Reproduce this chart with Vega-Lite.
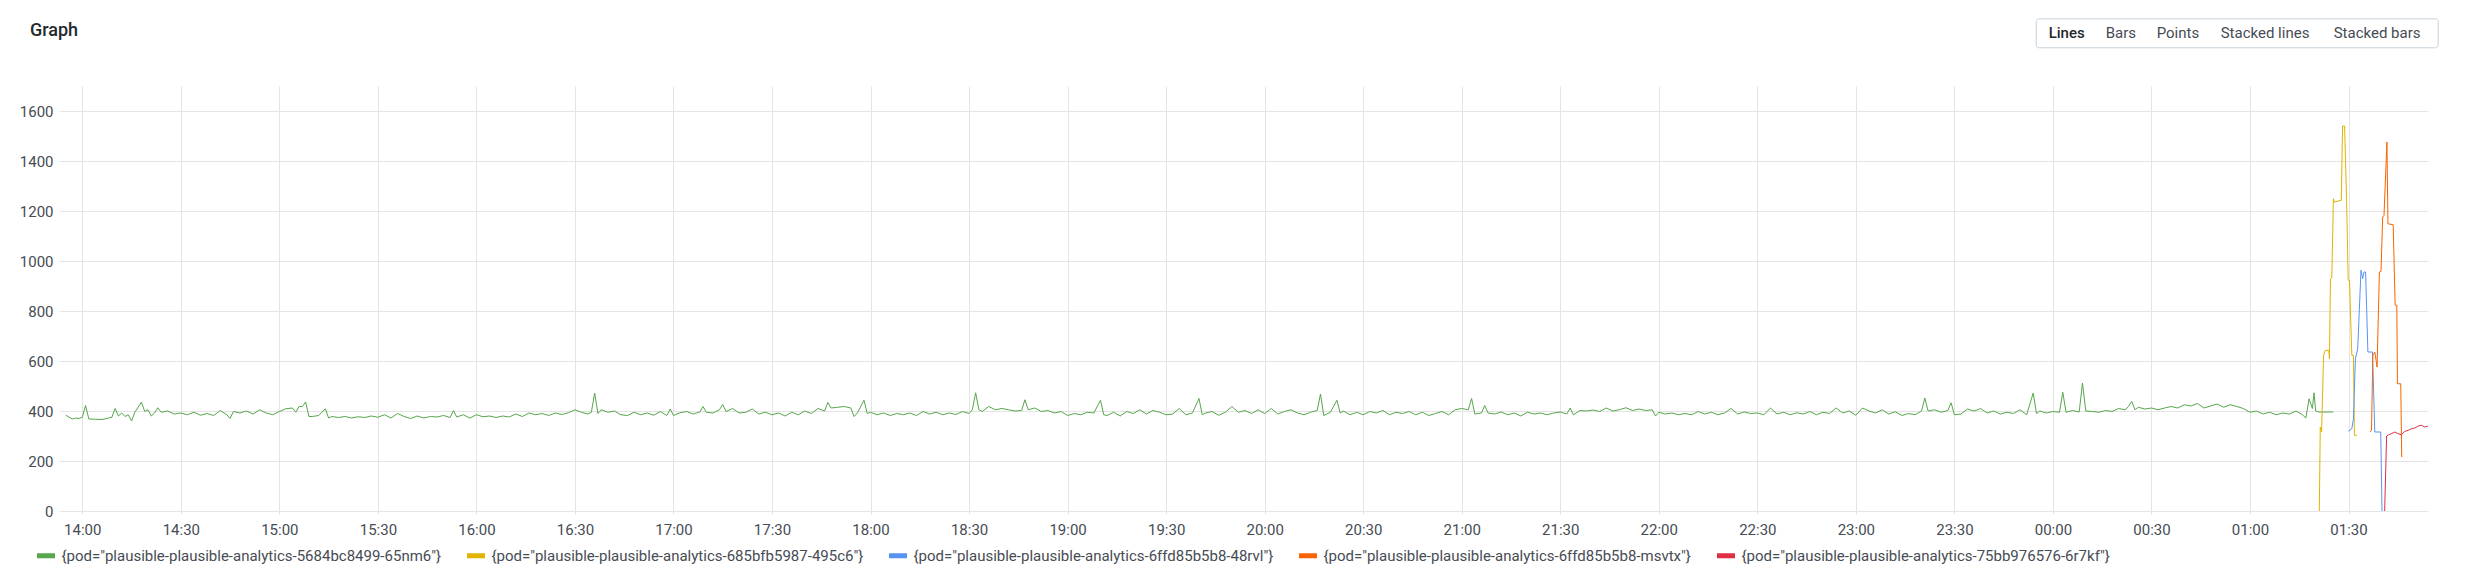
{
  "$schema": "https://vega.github.io/schema/vega-lite/v6.json",
  "width": 2369,
  "height": 425,
  "autosize": "none",
  "padding": {"left": 59, "top": 86, "right": 49, "bottom": 67},
  "background": "#ffffff",
  "config": {"font": "Roboto", "view": {"stroke": null}},
  "title": {"text": "Graph", "anchor": "start", "frame": "group", "dx": -29, "offset": -40, "baseline": "bottom", "fontSize": 18, "fontWeight": 500, "font": "Roboto", "color": "#24292e"},
  "datasets": {
    "pods": [
      {"p":"g","m":-5,"v":383},{"p":"g","m":-4,"v":375},{"p":"g","m":-3,"v":368},{"p":"g","m":-2,"v":372},{"p":"g","m":-1,"v":370},{"p":"g","m":0,"v":375},{"p":"g","m":1,"v":422},{"p":"g","m":2,"v":368},{"p":"g","m":4,"v":367},{"p":"g","m":6,"v":366},{"p":"g","m":8,"v":372},{"p":"g","m":9,"v":375},{"p":"g","m":10,"v":410},{"p":"g","m":11,"v":380},{"p":"g","m":12,"v":392},{"p":"g","m":13,"v":378},{"p":"g","m":14,"v":385},{"p":"g","m":15,"v":360},{"p":"g","m":16,"v":395},{"p":"g","m":17,"v":415},{"p":"g","m":18,"v":436},{"p":"g","m":19,"v":398},{"p":"g","m":20,"v":405},{"p":"g","m":21,"v":380},{"p":"g","m":22,"v":392},{"p":"g","m":23,"v":413},{"p":"g","m":24,"v":395},{"p":"g","m":26,"v":400},{"p":"g","m":28,"v":388},{"p":"g","m":30,"v":392},{"p":"g","m":32,"v":385},{"p":"g","m":34,"v":395},{"p":"g","m":36,"v":383},{"p":"g","m":38,"v":390},{"p":"g","m":40,"v":382},{"p":"g","m":42,"v":402},{"p":"g","m":44,"v":385},{"p":"g","m":45,"v":370},{"p":"g","m":46,"v":398},{"p":"g","m":48,"v":392},{"p":"g","m":50,"v":400},{"p":"g","m":52,"v":388},{"p":"g","m":54,"v":405},{"p":"g","m":56,"v":392},{"p":"g","m":58,"v":385},{"p":"g","m":60,"v":398},{"p":"g","m":62,"v":409},{"p":"g","m":64,"v":412},{"p":"g","m":65,"v":395},{"p":"g","m":66,"v":418},{"p":"g","m":67,"v":418},{"p":"g","m":68,"v":436},{"p":"g","m":69,"v":378},{"p":"g","m":70,"v":378},{"p":"g","m":72,"v":382},{"p":"g","m":74,"v":409},{"p":"g","m":75,"v":372},{"p":"g","m":76,"v":378},{"p":"g","m":78,"v":374},{"p":"g","m":80,"v":378},{"p":"g","m":82,"v":372},{"p":"g","m":84,"v":377},{"p":"g","m":86,"v":374},{"p":"g","m":88,"v":380},{"p":"g","m":90,"v":375},{"p":"g","m":92,"v":385},{"p":"g","m":94,"v":372},{"p":"g","m":96,"v":390},{"p":"g","m":98,"v":378},{"p":"g","m":100,"v":370},{"p":"g","m":102,"v":380},{"p":"g","m":104,"v":372},{"p":"g","m":106,"v":378},{"p":"g","m":108,"v":376},{"p":"g","m":110,"v":382},{"p":"g","m":112,"v":374},{"p":"g","m":113,"v":402},{"p":"g","m":114,"v":376},{"p":"g","m":116,"v":385},{"p":"g","m":118,"v":372},{"p":"g","m":120,"v":385},{"p":"g","m":122,"v":377},{"p":"g","m":124,"v":380},{"p":"g","m":126,"v":374},{"p":"g","m":128,"v":380},{"p":"g","m":130,"v":376},{"p":"g","m":132,"v":388},{"p":"g","m":134,"v":378},{"p":"g","m":136,"v":392},
      {"p":"g","m":138,"v":385},{"p":"g","m":140,"v":390},{"p":"g","m":142,"v":382},{"p":"g","m":144,"v":392},{"p":"g","m":146,"v":386},{"p":"g","m":148,"v":393},{"p":"g","m":150,"v":405},{"p":"g","m":152,"v":395},{"p":"g","m":154,"v":388},{"p":"g","m":155,"v":395},{"p":"g","m":156,"v":472},{"p":"g","m":157,"v":390},{"p":"g","m":158,"v":405},{"p":"g","m":160,"v":395},{"p":"g","m":162,"v":400},{"p":"g","m":164,"v":385},{"p":"g","m":166,"v":382},{"p":"g","m":168,"v":395},{"p":"g","m":170,"v":385},{"p":"g","m":172,"v":392},{"p":"g","m":174,"v":383},{"p":"g","m":176,"v":398},{"p":"g","m":178,"v":382},{"p":"g","m":179,"v":408},{"p":"g","m":180,"v":382},{"p":"g","m":182,"v":393},{"p":"g","m":184,"v":398},{"p":"g","m":186,"v":388},{"p":"g","m":188,"v":396},{"p":"g","m":189,"v":418},{"p":"g","m":190,"v":395},{"p":"g","m":192,"v":392},{"p":"g","m":194,"v":405},{"p":"g","m":195,"v":426},{"p":"g","m":196,"v":398},{"p":"g","m":198,"v":410},{"p":"g","m":200,"v":392},{"p":"g","m":202,"v":395},{"p":"g","m":204,"v":408},{"p":"g","m":206,"v":388},{"p":"g","m":208,"v":395},{"p":"g","m":210,"v":385},{"p":"g","m":212,"v":392},{"p":"g","m":214,"v":380},{"p":"g","m":216,"v":395},{"p":"g","m":218,"v":385},{"p":"g","m":220,"v":400},{"p":"g","m":222,"v":390},{"p":"g","m":224,"v":410},{"p":"g","m":226,"v":400},{"p":"g","m":227,"v":434},{"p":"g","m":228,"v":412},{"p":"g","m":230,"v":415},{"p":"g","m":232,"v":418},{"p":"g","m":234,"v":412},{"p":"g","m":235,"v":378},{"p":"g","m":236,"v":392},{"p":"g","m":238,"v":443},{"p":"g","m":239,"v":390},{"p":"g","m":240,"v":395},{"p":"g","m":242,"v":385},{"p":"g","m":244,"v":392},{"p":"g","m":246,"v":382},{"p":"g","m":248,"v":390},{"p":"g","m":250,"v":385},{"p":"g","m":252,"v":392},{"p":"g","m":254,"v":382},{"p":"g","m":256,"v":398},{"p":"g","m":258,"v":388},{"p":"g","m":260,"v":395},{"p":"g","m":262,"v":385},{"p":"g","m":264,"v":392},{"p":"g","m":266,"v":386},{"p":"g","m":268,"v":398},{"p":"g","m":270,"v":390},{"p":"g","m":271,"v":405},{"p":"g","m":272,"v":473},{"p":"g","m":273,"v":405},{"p":"g","m":274,"v":398},{"p":"g","m":276,"v":418},{"p":"g","m":278,"v":405},
      {"p":"g","m":280,"v":410},{"p":"g","m":282,"v":405},{"p":"g","m":284,"v":400},{"p":"g","m":286,"v":402},{"p":"g","m":287,"v":445},{"p":"g","m":288,"v":405},{"p":"g","m":290,"v":412},{"p":"g","m":292,"v":398},{"p":"g","m":294,"v":402},{"p":"g","m":296,"v":392},{"p":"g","m":298,"v":398},{"p":"g","m":300,"v":382},{"p":"g","m":302,"v":390},{"p":"g","m":304,"v":385},{"p":"g","m":306,"v":395},{"p":"g","m":308,"v":392},{"p":"g","m":310,"v":443},{"p":"g","m":311,"v":385},{"p":"g","m":312,"v":382},{"p":"g","m":314,"v":395},{"p":"g","m":316,"v":380},{"p":"g","m":318,"v":398},{"p":"g","m":320,"v":390},{"p":"g","m":322,"v":405},{"p":"g","m":324,"v":388},{"p":"g","m":326,"v":402},{"p":"g","m":328,"v":395},{"p":"g","m":330,"v":385},{"p":"g","m":332,"v":388},{"p":"g","m":334,"v":410},{"p":"g","m":336,"v":385},{"p":"g","m":338,"v":392},{"p":"g","m":340,"v":450},{"p":"g","m":341,"v":385},{"p":"g","m":342,"v":392},{"p":"g","m":344,"v":398},{"p":"g","m":346,"v":383},{"p":"g","m":348,"v":395},{"p":"g","m":350,"v":418},{"p":"g","m":352,"v":395},{"p":"g","m":354,"v":402},{"p":"g","m":356,"v":390},{"p":"g","m":358,"v":405},{"p":"g","m":360,"v":390},{"p":"g","m":362,"v":410},{"p":"g","m":364,"v":388},{"p":"g","m":366,"v":398},{"p":"g","m":368,"v":405},{"p":"g","m":370,"v":392},{"p":"g","m":372,"v":385},{"p":"g","m":374,"v":395},{"p":"g","m":376,"v":402},{"p":"g","m":377,"v":468},{"p":"g","m":378,"v":382},{"p":"g","m":380,"v":395},{"p":"g","m":382,"v":443},{"p":"g","m":383,"v":392},{"p":"g","m":384,"v":400},{"p":"g","m":386,"v":385},{"p":"g","m":388,"v":395},{"p":"g","m":390,"v":385},{"p":"g","m":392,"v":398},{"p":"g","m":394,"v":392},{"p":"g","m":396,"v":402},{"p":"g","m":398,"v":385},{"p":"g","m":400,"v":395},{"p":"g","m":402,"v":390},{"p":"g","m":404,"v":398},{"p":"g","m":406,"v":385},{"p":"g","m":408,"v":395},{"p":"g","m":410,"v":382},{"p":"g","m":412,"v":390},{"p":"g","m":414,"v":398},{"p":"g","m":416,"v":385},{"p":"g","m":418,"v":405},{"p":"g","m":420,"v":410},
      {"p":"g","m":422,"v":405},{"p":"g","m":423,"v":450},{"p":"g","m":424,"v":388},{"p":"g","m":426,"v":392},{"p":"g","m":427,"v":422},{"p":"g","m":428,"v":392},{"p":"g","m":430,"v":388},{"p":"g","m":432,"v":396},{"p":"g","m":434,"v":385},{"p":"g","m":436,"v":392},{"p":"g","m":438,"v":380},{"p":"g","m":440,"v":395},{"p":"g","m":442,"v":388},{"p":"g","m":444,"v":392},{"p":"g","m":446,"v":385},{"p":"g","m":448,"v":392},{"p":"g","m":450,"v":396},{"p":"g","m":452,"v":388},{"p":"g","m":453,"v":412},{"p":"g","m":454,"v":385},{"p":"g","m":456,"v":402},{"p":"g","m":458,"v":400},{"p":"g","m":460,"v":404},{"p":"g","m":462,"v":398},{"p":"g","m":464,"v":412},{"p":"g","m":466,"v":400},{"p":"g","m":468,"v":405},{"p":"g","m":470,"v":413},{"p":"g","m":472,"v":402},{"p":"g","m":474,"v":408},{"p":"g","m":476,"v":402},{"p":"g","m":478,"v":405},{"p":"g","m":479,"v":380},{"p":"g","m":480,"v":395},{"p":"g","m":482,"v":388},{"p":"g","m":484,"v":392},{"p":"g","m":486,"v":385},{"p":"g","m":488,"v":390},{"p":"g","m":490,"v":385},{"p":"g","m":492,"v":398},{"p":"g","m":494,"v":388},{"p":"g","m":496,"v":395},{"p":"g","m":498,"v":385},{"p":"g","m":500,"v":392},{"p":"g","m":502,"v":410},{"p":"g","m":504,"v":388},{"p":"g","m":506,"v":396},{"p":"g","m":508,"v":390},{"p":"g","m":510,"v":392},{"p":"g","m":512,"v":385},{"p":"g","m":514,"v":412},{"p":"g","m":516,"v":388},{"p":"g","m":518,"v":395},{"p":"g","m":520,"v":385},{"p":"g","m":522,"v":393},{"p":"g","m":524,"v":388},{"p":"g","m":526,"v":398},{"p":"g","m":528,"v":385},{"p":"g","m":530,"v":395},{"p":"g","m":532,"v":390},{"p":"g","m":534,"v":412},{"p":"g","m":536,"v":392},{"p":"g","m":538,"v":400},{"p":"g","m":540,"v":383},{"p":"g","m":542,"v":412},{"p":"g","m":544,"v":400},{"p":"g","m":546,"v":392},{"p":"g","m":548,"v":405},{"p":"g","m":550,"v":388},{"p":"g","m":552,"v":397},{"p":"g","m":554,"v":382},{"p":"g","m":556,"v":390},{"p":"g","m":558,"v":385},{"p":"g","m":560,"v":400},{"p":"g","m":561,"v":452},{"p":"g","m":562,"v":400},{"p":"g","m":564,"v":405},
      {"p":"g","m":566,"v":395},{"p":"g","m":568,"v":402},{"p":"g","m":569,"v":433},{"p":"g","m":570,"v":385},{"p":"g","m":572,"v":388},{"p":"g","m":574,"v":408},{"p":"g","m":576,"v":400},{"p":"g","m":578,"v":410},{"p":"g","m":580,"v":392},{"p":"g","m":582,"v":400},{"p":"g","m":584,"v":388},{"p":"g","m":586,"v":395},{"p":"g","m":588,"v":390},{"p":"g","m":590,"v":405},{"p":"g","m":592,"v":385},{"p":"g","m":594,"v":472},{"p":"g","m":595,"v":390},{"p":"g","m":596,"v":400},{"p":"g","m":598,"v":392},{"p":"g","m":600,"v":398},{"p":"g","m":602,"v":395},{"p":"g","m":603,"v":475},{"p":"g","m":604,"v":395},{"p":"g","m":606,"v":402},{"p":"g","m":608,"v":396},{"p":"g","m":609,"v":512},{"p":"g","m":610,"v":400},{"p":"g","m":612,"v":398},{"p":"g","m":614,"v":395},{"p":"g","m":616,"v":402},{"p":"g","m":618,"v":398},{"p":"g","m":620,"v":410},{"p":"g","m":622,"v":405},{"p":"g","m":623,"v":418},{"p":"g","m":624,"v":438},{"p":"g","m":625,"v":405},{"p":"g","m":626,"v":415},{"p":"g","m":628,"v":408},{"p":"g","m":630,"v":412},{"p":"g","m":632,"v":405},{"p":"g","m":634,"v":412},{"p":"g","m":636,"v":418},{"p":"g","m":638,"v":412},{"p":"g","m":640,"v":425},{"p":"g","m":642,"v":420},{"p":"g","m":644,"v":430},{"p":"g","m":646,"v":412},{"p":"g","m":648,"v":420},{"p":"g","m":650,"v":428},{"p":"g","m":652,"v":415},{"p":"g","m":654,"v":425},{"p":"g","m":656,"v":418},{"p":"g","m":658,"v":410},{"p":"g","m":660,"v":395},{"p":"g","m":662,"v":400},{"p":"g","m":664,"v":388},{"p":"g","m":666,"v":395},{"p":"g","m":668,"v":385},{"p":"g","m":670,"v":392},{"p":"g","m":672,"v":388},{"p":"g","m":674,"v":400},{"p":"g","m":676,"v":385},{"p":"g","m":677,"v":372},{"p":"g","m":678,"v":449},{"p":"g","m":679,"v":410},{"p":"g","m":679.5,"v":473},{"p":"g","m":680,"v":400},{"p":"g","m":681,"v":396},{"p":"g","m":685,"v":396},{"p":"g","m":685.4,"v":396},
      {"p":"y","m":681.1,"v":0},{"p":"y","m":681.4,"v":336},{"p":"y","m":681.8,"v":316},{"p":"y","m":682.4,"v":623},{"p":"y","m":682.9,"v":643},{"p":"y","m":684,"v":643},{"p":"y","m":684.2,"v":609},{"p":"y","m":684.5,"v":929},{"p":"y","m":684.9,"v":933},{"p":"y","m":685.4,"v":1249},{"p":"y","m":685.7,"v":1236},{"p":"y","m":687.8,"v":1243},{"p":"y","m":688.2,"v":1540},{"p":"y","m":688.8,"v":1540},{"p":"y","m":689.4,"v":1249},{"p":"y","m":689.9,"v":923},{"p":"y","m":690.3,"v":923},{"p":"y","m":691,"v":623},{"p":"y","m":691.5,"v":623},{"p":"y","m":691.8,"v":303},{"p":"y","m":692.6,"v":303},
      {"p":"b","m":689.9,"v":319},{"p":"b","m":691,"v":329},{"p":"b","m":691.5,"v":369},{"p":"b","m":692.1,"v":609},{"p":"b","m":692.8,"v":649},{"p":"b","m":693.8,"v":963},{"p":"b","m":694.3,"v":929},{"p":"b","m":694.7,"v":956},{"p":"b","m":695.2,"v":956},{"p":"b","m":695.9,"v":636},{"p":"b","m":697.3,"v":636},{"p":"b","m":698,"v":316},{"p":"b","m":699.8,"v":316},{"p":"b","m":700.2,"v":0},
      {"p":"o","m":696.6,"v":316},{"p":"o","m":697,"v":323},{"p":"o","m":697.4,"v":623},{"p":"o","m":698,"v":636},{"p":"o","m":698.7,"v":576},{"p":"o","m":699.4,"v":956},{"p":"o","m":699.9,"v":959},{"p":"o","m":700.4,"v":1176},{"p":"o","m":700.8,"v":1182},{"p":"o","m":701.7,"v":1476},{"p":"o","m":702,"v":1149},{"p":"o","m":703.6,"v":1145},{"p":"o","m":704.2,"v":823},{"p":"o","m":704.7,"v":823},{"p":"o","m":704.9,"v":509},{"p":"o","m":705.9,"v":509},{"p":"o","m":706.2,"v":216},
      {"p":"r","m":701,"v":0},{"p":"r","m":701.6,"v":300},{"p":"r","m":702.2,"v":305},{"p":"r","m":703,"v":309},{"p":"r","m":704.1,"v":316},{"p":"r","m":705,"v":310},{"p":"r","m":706.1,"v":305},{"p":"r","m":707.1,"v":318},{"p":"r","m":708.2,"v":323},{"p":"r","m":709.2,"v":329},{"p":"r","m":710.2,"v":332},{"p":"r","m":711.2,"v":340},{"p":"r","m":712.2,"v":343},{"p":"r","m":713.2,"v":336},{"p":"r","m":714.3,"v":340}
    ],
    "buttons": [{"b":"Lines"},{"b":"Bars"},{"b":"Points"},{"b":"Stacked lines"},{"b":"Stacked bars"}]
  },
  "layer": [
    {
      "data": {"name": "pods"},
      "mark": {"type": "line", "strokeWidth": 1, "clip": true},
      "encoding": {
        "x": {"field": "m", "type": "quantitative",
          "scale": {"domain": [-7.09, 714.2], "nice": false, "zero": false},
          "axis": {"title": null, "values": [0,30,60,90,120,150,180,210,240,270,300,330,360,390,420,450,480,510,540,570,600,630,660,690],
            "labelExpr": "((14 + floor(datum.value / 60)) % 24 < 10 ? '0' : '') + ((14 + floor(datum.value / 60)) % 24) + ':' + (datum.value % 60 == 0 ? '00' : '30')",
            "domain": false, "tickSize": 3, "tickColor": "#e4e4e4", "gridColor": "#e4e4e4", "labelPadding": 8, "labelFontSize": 15, "labelFont": "Roboto", "labelColor": "#464c54", "labelFlush": false, "labelOverlap": false}},
        "y": {"field": "v", "type": "quantitative",
          "scale": {"domain": [0, 1700], "nice": false},
          "axis": {"title": null, "format": "d", "values": [0,200,400,600,800,1000,1200,1400,1600], "domain": false, "ticks": false, "labelPadding": 6, "gridColor": "#e4e4e4", "labelFontSize": 15, "labelFont": "Roboto", "labelColor": "#464c54"}},
        "color": {"field": "p", "type": "nominal",
          "scale": {"domain": ["g","y","b","o","r"], "range": ["#56A64B","#E0B400","#5794F2","#FA6400","#E02F44"]},
          "legend": {"title": null, "orient": "none", "legendX": -24.5, "legendY": 458, "direction": "horizontal", "symbolType": "stroke", "symbolSize": 324, "symbolStrokeWidth": 5, "labelFontSize": 15, "labelFont": "Roboto", "labelColor": "#464c54", "labelLimit": 1000, "labelOffset": 4, "columnPadding": 15, "padding": 0,
            "labelExpr": "datum.label == 'g' ? '{pod=\"plausible-plausible-analytics-5684bc8499-65nm6\"}' : datum.label == 'y' ? '{pod=\"plausible-plausible-analytics-685bfb5987-495c6\"}' : datum.label == 'b' ? '{pod=\"plausible-plausible-analytics-6ffd85b5b8-48rvl\"}' : datum.label == 'o' ? '{pod=\"plausible-plausible-analytics-6ffd85b5b8-msvtx\"}' : '{pod=\"plausible-plausible-analytics-75bb976576-6r7kf\"}'"}}
      }
    },
    {
      "data": {"name": "buttons"},
      "mark": {"type": "point", "filled": true, "opacity": 0},
      "encoding": {
        "fill": {"field": "b", "type": "nominal",
          "scale": {"domain": ["Lines","Bars","Points","Stacked lines","Stacked bars"], "range": ["#ececec","transparent","transparent","transparent","transparent"]},
          "legend": {"title": null, "orient": "none", "legendX": 1976.7, "legendY": -67.7, "direction": "horizontal", "symbolSize": 529, "symbolStrokeWidth": 0, "symbolOpacity": 1, "labelOffset": -13, "columnPadding": 0, "padding": 3, "strokeColor": "#c7d0d9", "cornerRadius": 3, "fillColor": "#ffffff", "labelFontSize": 15, "labelFont": "Roboto", "labelLimit": 1000,
            "labelColor": {"expr": "datum.label == 'Lines' ? '#24292e' : '#464c54'"},
            "labelFontWeight": {"expr": "datum.label == 'Lines' ? 500 : 400"}}},
        "shape": {"field": "b", "type": "nominal",
          "scale": {"domain": ["Lines","Bars","Points","Stacked lines","Stacked bars"], "range": ["M-1,-1H3.9565V1H-1Z","M-1,-1H3.3913V1H-1Z","M-1,-1H4.5652V1H-1Z","M-1,-1H8.7826V1H-1Z","M-1,-1H8.6087V1H-1Z"]}}
      }
    }
  ]
}
